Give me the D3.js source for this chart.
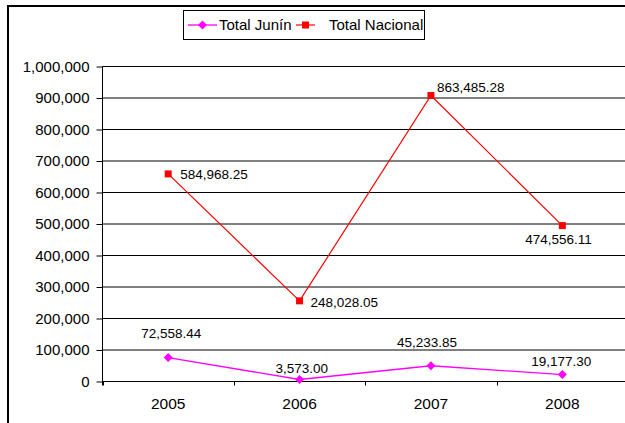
<!DOCTYPE html>
<html>
<head>
  <meta charset="utf-8">
  <title>Total Junín / Total Nacional</title>
  <style>
    body { margin: 0; background: #fff; }
    svg { display: block; font-family: "Liberation Sans", Arial, sans-serif; }
  </style>
</head>
<body>
  <svg width="625" height="423"></svg>
  <script src="https://d3js.org/d3.v7.min.js"></script>
  <script>
  // datos
  var years = ["2005", "2006", "2007", "2008"];
  var junin = [76000, 6300, 50000, 22000];
  var nacional = [659000, 256000, 908000, 495000];
  var juninLabels = ["72,558.44", "3,573.00", "45,233.85", "19,177.30"];
  var nacionalLabels = ["584,968.25", "248,028.05", "863,485.28", "474,556.11"];
  var yTicks = [0, 100000, 200000, 300000, 400000, 500000, 600000, 700000, 800000, 900000, 1000000];

  var svg = d3.select("svg");

  // marco exterior
  svg.append("rect")
    .attr("x", 8).attr("y", 6)
    .attr("width", 640).attr("height", 440)
    .attr("fill", "none").attr("stroke", "#000").attr("stroke-width", 2);

  // escalas
  var x = d3.scaleBand().domain(years).range([102.5, 628]);
  var y = d3.scaleLinear().domain([0, 1000000]).range([381.5, 66.5]);

  // lineas de cuadricula
  svg.append("g")
    .selectAll("line")
    .data(yTicks)
    .enter()
    .append("line")
    .attr("x1", 102.5).attr("x2", 625)
    .attr("y1", function(d) { return y(d); })
    .attr("y2", function(d) { return y(d); })
    .attr("stroke", "#000").attr("stroke-width", 1);

  // eje y
  var yAxis = svg.append("g")
    .attr("transform", "translate(102.5,0)")
    .call(d3.axisLeft(y).tickValues(yTicks).tickSize(6).tickPadding(7)
      .tickFormat(d3.format(",")));
  yAxis.select(".domain").attr("d", "M0,66.5V385.5");
  yAxis.selectAll("text").attr("font-size", 15).attr("font-family", "Liberation Sans, Arial, sans-serif").attr("fill", "#000");

  // eje x
  var xAxis = svg.append("g")
    .attr("transform", "translate(0,381.5)")
    .call(d3.axisBottom(x).tickSize(0).tickPadding(16));
  xAxis.select(".domain").remove();
  xAxis.selectAll("text").attr("font-size", 15.5).attr("font-family", "Liberation Sans, Arial, sans-serif").attr("fill", "#000");
  xAxis.selectAll(".sep")
    .data(years)
    .enter()
    .append("line")
    .attr("x1", function(d) { return Math.round(x(d)) + 0.5; })
    .attr("x2", function(d) { return Math.round(x(d)) + 0.5; })
    .attr("y1", 0).attr("y2", 4)
    .attr("stroke", "#000");

  var cx = function(d, i) { return x(years[i]) + x.bandwidth() / 2; };
  var line = d3.line()
    .x(function(d, i) { return x(years[i]) + x.bandwidth() / 2; })
    .y(function(d) { return y(d); });

  // serie nacional
  svg.append("path")
    .datum(nacional)
    .attr("d", line)
    .attr("fill", "none").attr("stroke", "#ff0000").attr("stroke-width", 1.2);
  svg.selectAll(".sq")
    .data(nacional)
    .enter()
    .append("rect")
    .attr("x", function(d, i) { return cx(d, i) - 3.5; })
    .attr("y", function(d) { return y(d) - 3.5; })
    .attr("width", 7).attr("height", 7)
    .attr("fill", "#ff0000");

  // serie junin
  svg.append("path")
    .datum(junin)
    .attr("d", line)
    .attr("fill", "none").attr("stroke", "#ff00ff").attr("stroke-width", 1.3);
  svg.selectAll(".dm")
    .data(junin)
    .enter()
    .append("path")
    .attr("d", function(d, i) {
      var px = cx(d, i), py = y(d);
      return "M" + px + "," + (py - 4.5) + "L" + (px + 4.5) + "," + py + "L" + px + "," + (py + 4.5) + "L" + (px - 4.5) + "," + py + "Z";
    })
    .attr("fill", "#ff00ff");

  // etiquetas de datos (desplazamientos respecto al punto)
  var nacDx = [12, 11, 6, -37];
  var nacDy = [0, 1, -8, 14];
  var junDx = [-27, -24, -34, -31];
  var junDy = [-24, -11, -23, -13];

  svg.selectAll(".nl")
    .data(nacional)
    .enter()
    .append("text")
    .attr("x", function(d, i) { return cx(d, i) + nacDx[i]; })
    .attr("y", function(d, i) { return y(d) + nacDy[i]; })
    .attr("dy", "0.35em")
    .attr("font-size", 13.5)
    .text(function(d, i) { return nacionalLabels[i]; });

  svg.selectAll(".jl")
    .data(junin)
    .enter()
    .append("text")
    .attr("x", function(d, i) { return cx(d, i) + junDx[i]; })
    .attr("y", function(d, i) { return y(d) + junDy[i]; })
    .attr("dy", "0.35em")
    .attr("font-size", 13.5)
    .text(function(d, i) { return juninLabels[i]; });

  // leyenda
  var legend = svg.append("g");
  legend.append("rect")
    .attr("x", 183.5).attr("y", 10.5)
    .attr("width", 241).attr("height", 29)
    .attr("fill", "#fff").attr("stroke", "#000").attr("stroke-width", 1);
  legend.append("line")
    .attr("x1", 188).attr("x2", 217).attr("y1", 25).attr("y2", 25)
    .attr("stroke", "#ff00ff").attr("stroke-width", 1.3);
  legend.append("path")
    .attr("d", "M202.5,20.5L207,25L202.5,29.5L198,25Z")
    .attr("fill", "#ff00ff");
  legend.append("text")
    .attr("x", 219).attr("y", 25).attr("dy", "0.35em")
    .attr("font-size", 15)
    .text("Total Junín");
  legend.append("line")
    .attr("x1", 296).attr("x2", 315).attr("y1", 25).attr("y2", 25)
    .attr("stroke", "#ff0000").attr("stroke-width", 1.2);
  legend.append("rect")
    .attr("x", 302).attr("y", 21.5).attr("width", 7).attr("height", 7)
    .attr("fill", "#ff0000");
  legend.append("text")
    .attr("x", 329).attr("y", 25).attr("dy", "0.35em")
    .attr("font-size", 15)
    .text("Total Nacional");
  </script>
</body>
</html>
